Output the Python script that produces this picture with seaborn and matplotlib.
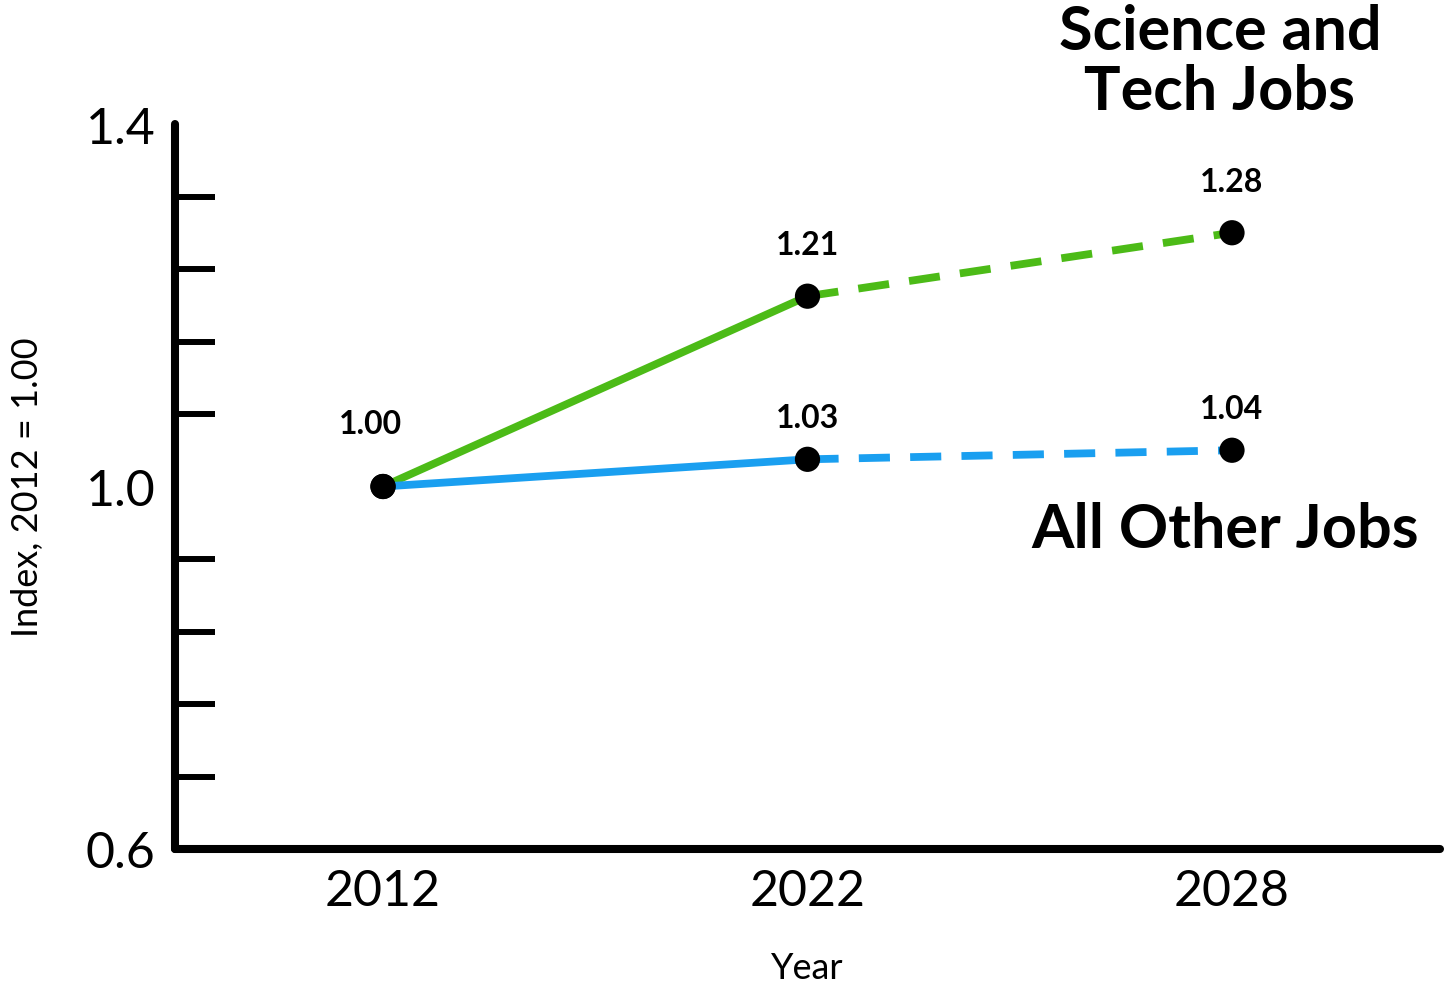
import matplotlib
matplotlib.use("Agg")
import matplotlib.pyplot as plt
import seaborn as sns
import numpy as np
import pandas as pd
from matplotlib.ticker import FixedLocator

years = ["2012", "2022", "2028"]
science_tech = [1.00, 1.21, 1.28]
all_other = [1.00, 1.03, 1.04]
y_major = [0.6, 1.0, 1.4]
y_minor = [0.68, 0.76, 0.84, 0.92, 1.0, 1.08, 1.16, 1.24, 1.32]
green = "#4cbb17"
blue = "#1a9ff0"

sns.set_style("white")
plt.rcParams['font.family'] = ['Lato', 'DejaVu Sans']
plt.rcParams['text.color'] = 'black'
plt.rcParams['axes.labelcolor'] = 'black'
plt.rcParams['xtick.color'] = 'black'
plt.rcParams['ytick.color'] = 'black'

fig = plt.figure(figsize=(14.45, 9.87), dpi=100)
ax = fig.add_axes([175/1445, 1-850/987, (1440-175)/1445, (850-125)/987])

pos = list(range(len(years)))
df = pd.DataFrame({"pos": pos, "sci": science_tech, "oth": all_other})

lw = 5.6
for col, c in [("sci", green), ("oth", blue)]:
    sns.lineplot(data=df.iloc[:2], x="pos", y=col, ax=ax, color=c, linewidth=lw,
                 solid_capstyle="butt", zorder=2)
    sns.lineplot(data=df.iloc[1:], x="pos", y=col, ax=ax, color=c, linewidth=lw,
                 zorder=2).lines[-1].set_dashes((4, 2.6))
    sns.scatterplot(data=df, x="pos", y=col, ax=ax, color="black", s=330,
                    edgecolor="none", zorder=3)

ax.set_xlim(-0.49, 2.49)
ax.set_ylim(0.6, 1.4)

# value labels
sci_off = [(-9, 45), (0, 37), (0, 37)]
oth_off = [None, (0, 30), (0, 30)]
for i in range(len(years)):
    ax.annotate(f"{science_tech[i]:.2f}", (pos[i], science_tech[i]), textcoords="offset points",
                xytext=sci_off[i], ha="center", va="center", fontsize=23, fontweight="bold",
                color="black")
    if oth_off[i] is not None:
        ax.annotate(f"{all_other[i]:.2f}", (pos[i], all_other[i]), textcoords="offset points",
                    xytext=oth_off[i], ha="center", va="center", fontsize=23, fontweight="bold",
                    color="black")

# series labels
fig.text(1220/1445, 1-62/987, "Science and\nTech Jobs", ha="center", va="center",
         fontsize=44, fontweight="bold", linespacing=1.08, color="black")
fig.text(1225/1445, 1-530/987, "All Other Jobs", ha="center", va="center",
         fontsize=44, fontweight="bold", color="black")

# axes styling
for s in ["top", "right"]:
    ax.spines[s].set_visible(False)
for s in ["left", "bottom"]:
    ax.spines[s].set_linewidth(5.8)
    ax.spines[s].set_color("black")
    ax.spines[s].set_capstyle("round")

ax.set_xticks(pos)
ax.set_xticklabels(years)
ax.yaxis.set_major_locator(FixedLocator(y_major))
ax.set_yticklabels([f"{v:.1f}" for v in y_major])
ax.yaxis.set_minor_locator(FixedLocator(y_minor))
ax.tick_params(axis="x", direction="in", length=19, width=3, labelsize=36, pad=14, color="black",
               labelcolor="black")
ax.tick_params(axis="y", which="major", direction="in", length=0, labelsize=36, pad=14,
               labelcolor="black")
ax.tick_params(axis="y", which="minor", direction="in", length=29, width=4.3, color="black")
ax.tick_params(axis="y", which="minor", left=True)

ax.set_xlabel("Year", fontsize=26, labelpad=26, color="black")
ax.set_ylabel("Index, 2012 = 1.00", fontsize=26, labelpad=30, color="black")
ax.grid(False)

fig.savefig("out.png", dpi=100, facecolor="white")
